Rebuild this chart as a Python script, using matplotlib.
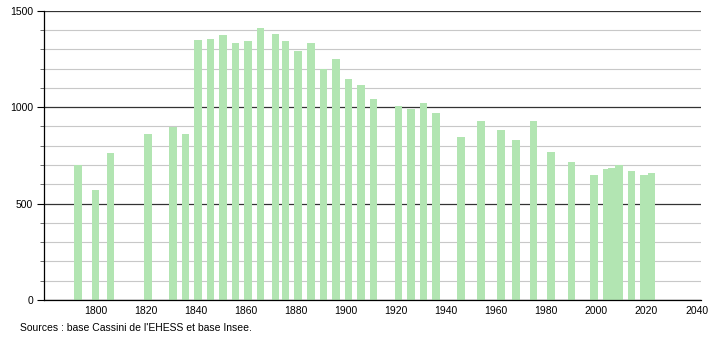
import matplotlib
matplotlib.use("Agg")
import matplotlib.pyplot as plt
from matplotlib.ticker import MultipleLocator

# census years and population
years = [1793, 1800, 1806, 1821, 1831, 1836, 1841, 1846, 1851, 1856,
         1861, 1866, 1872, 1876, 1881, 1886, 1891, 1896, 1901, 1906,
         1911, 1921, 1926, 1931, 1936, 1946, 1954, 1962, 1968, 1975,
         1982, 1990, 1999, 2004, 2006, 2009, 2014, 2019, 2022]
population = [698, 569, 760, 859, 898, 859, 1348, 1351, 1372, 1331,
              1344, 1410, 1379, 1341, 1291, 1331, 1199, 1248, 1144, 1113,
              1040, 1006, 990, 1020, 968, 845, 928, 880, 829, 926,
              769, 714, 650, 677, 686, 700, 667, 648, 657]
xticks = list(range(1800, 2041, 20))
yticks = [0, 500, 1000, 1500]
source = "Sources : base Cassini de l'EHESS et base Insee."

plt.rcParams["font.family"] = ["Liberation Sans", "DejaVu Sans"]

fig = plt.figure(figsize=(7.1, 3.4), dpi=100)
ax = fig.add_axes([0.062, 0.1176, 0.925, 0.851])

ax.bar(years, population, width=3.0, color="#b2e5b2", zorder=2)

ax.set_xlim(1779.5, 2041.7)
ax.set_ylim(0, 1500)
ax.set_xticks(xticks)
ax.set_yticks(yticks)
ax.yaxis.set_minor_locator(MultipleLocator(100))

ax.grid(axis="y", which="minor", color="#c8c8c8", lw=0.8, zorder=0)
ax.grid(axis="y", which="major", color="#333333", lw=0.9, zorder=1)
ax.set_axisbelow(True)

for s in ("top", "right"):
    ax.spines[s].set_visible(False)
ax.spines["left"].set_color("black")
ax.spines["bottom"].set_color("black")
ax.spines["left"].set_linewidth(0.9)
ax.spines["bottom"].set_linewidth(0.9)

ax.tick_params(axis="x", length=0, pad=4, labelsize=7.5)
ax.tick_params(axis="y", which="major", length=5, width=0.8, pad=3, labelsize=7.5)
ax.tick_params(axis="y", which="minor", length=3, width=0.6, color="#555555")

fig.text(20 / 710, 1 - 328 / 340, source, fontsize=7.5, va="center", ha="left")

fig.savefig("out.png", dpi=100)
